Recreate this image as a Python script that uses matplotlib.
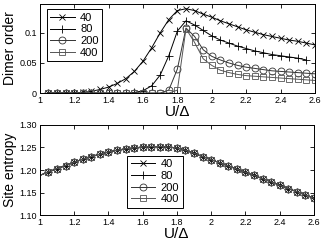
import matplotlib
matplotlib.use('Agg')
import matplotlib.pyplot as plt
import numpy as np

plt.rcParams['font.family'] = ['Liberation Sans', 'DejaVu Sans']

# U/Delta grid
u = [1.05, 1.10, 1.15, 1.20, 1.25, 1.30, 1.35, 1.40, 1.45, 1.50, 1.55, 1.60,
     1.65, 1.70, 1.75, 1.80, 1.85, 1.90, 1.95, 2.00, 2.05, 2.10, 2.15, 2.20,
     2.25, 2.30, 2.35, 2.40, 2.45, 2.50, 2.55, 2.60]

labels = ['40', '80', '200', '400']

dimer_40 = [0.0, 0.0, 0.0, 0.0, 0.001, 0.003, 0.006, 0.010, 0.016, 0.024, 0.036, 0.053,
            0.075, 0.100, 0.122, 0.137, 0.140, 0.137, 0.131, 0.126, 0.120, 0.115, 0.110, 0.105,
            0.101, 0.097, 0.094, 0.091, 0.088, 0.086, 0.083, 0.080]
dimer_80 = [0.0, 0.0, 0.0, 0.0, 0.0, 0.0, 0.0, 0.0, 0.0, 0.0, 0.001, 0.004,
            0.012, 0.030, 0.062, 0.103, 0.120, 0.113, 0.104, 0.095, 0.088, 0.083, 0.078, 0.074,
            0.070, 0.067, 0.064, 0.062, 0.060, 0.058, 0.055]
dimer_200 = [0.0, 0.0, 0.0, 0.0, 0.0, 0.0, 0.0, 0.0, 0.0, 0.0, 0.0, 0.0,
             0.0, 0.0, 0.005, 0.040, 0.108, 0.094, 0.072, 0.061, 0.055, 0.050, 0.046, 0.043,
             0.041, 0.039, 0.037, 0.036, 0.035, 0.034, 0.033, 0.032]
dimer_400 = [0.0, 0.0, 0.0, 0.0, 0.0, 0.0, 0.0, 0.0, 0.0, 0.0, 0.0, 0.0,
             0.0, 0.0, 0.0, 0.005, 0.107, 0.084, 0.057, 0.046, 0.038, 0.034, 0.031, 0.029,
             0.028, 0.027, 0.026, 0.025, 0.024, 0.023, 0.022, 0.021]
dimer = [dimer_40, dimer_80, dimer_200, dimer_400]

u_ent = [1.00] + u
entropy = [1.188, 1.196, 1.203, 1.210, 1.217, 1.224, 1.230, 1.235, 1.240, 1.244, 1.247,
           1.249, 1.251, 1.252, 1.252, 1.251, 1.249, 1.244, 1.237, 1.230, 1.223, 1.216,
           1.209, 1.202, 1.195, 1.188, 1.181, 1.174, 1.166, 1.159, 1.152, 1.145, 1.137]

markers = ['x', '+', 'o', 's']
msizes = [4.5, 6, 5, 4.5]
colors = ['#000000', '#000000', '#333333', '#555555']

fig = plt.figure(figsize=(3.24, 2.45), dpi=100)
ax1 = fig.add_axes([0.123, 0.620, 0.849, 0.364])
ax2 = fig.add_axes([0.123, 0.122, 0.846, 0.368])

for i in range(4):
    y = dimer[i]
    ax1.plot(u[:len(y)], y, marker=markers[i], ms=msizes[i], color=colors[i],
             mfc='none', mew=0.6, lw=0.7, label=labels[i])
    ax2.plot(u_ent, entropy, marker=markers[i], ms=msizes[i], color=colors[i],
             mfc='none', mew=0.6, lw=0.7, label=labels[i], markevery=slice(1, None))

ax1.set_xlim(1, 2.6)
ax1.set_ylim(0, 0.148)
ax1.set_yticks([0, 0.05, 0.1])
ax1.set_yticklabels(['0', '0.05', '0.1'])
ax1.set_ylabel('Dimer order', fontsize=10, labelpad=2)
ax1.set_xlabel('U/Δ', fontsize=11, labelpad=0)

ax2.set_xlim(1, 2.6)
ax2.set_ylim(1.1, 1.3)
ax2.set_yticks([1.1, 1.15, 1.2, 1.25, 1.3])
ax2.set_ylabel('Site entropy', fontsize=10, labelpad=2)
ax2.set_xlabel('U/Δ', fontsize=11, labelpad=0)

for ax in (ax1, ax2):
    ax.set_xticks(np.arange(1, 2.61, 0.2))
    ax.set_xticklabels(['1', '1.2', '1.4', '1.6', '1.8', '2', '2.2', '2.4', '2.6'])
    ax.tick_params(direction='in', labelsize=6.5, length=3, width=0.6,
                   top=True, right=True, pad=2)
    for s in ax.spines.values():
        s.set_linewidth(0.7)

leg_kw = dict(fontsize=8, handlelength=2.2, handletextpad=0.5, labelspacing=0.15,
              borderpad=0.3, fancybox=False, edgecolor='black', framealpha=1)
l1 = ax1.legend(loc='upper left', bbox_to_anchor=(0.005, 1.0), **leg_kw)
l2 = ax2.legend(loc='center', bbox_to_anchor=(0.42, 0.37), **leg_kw)
for l in (l1, l2):
    l.get_frame().set_linewidth(0.7)

fig.savefig('out.png', dpi=100)
